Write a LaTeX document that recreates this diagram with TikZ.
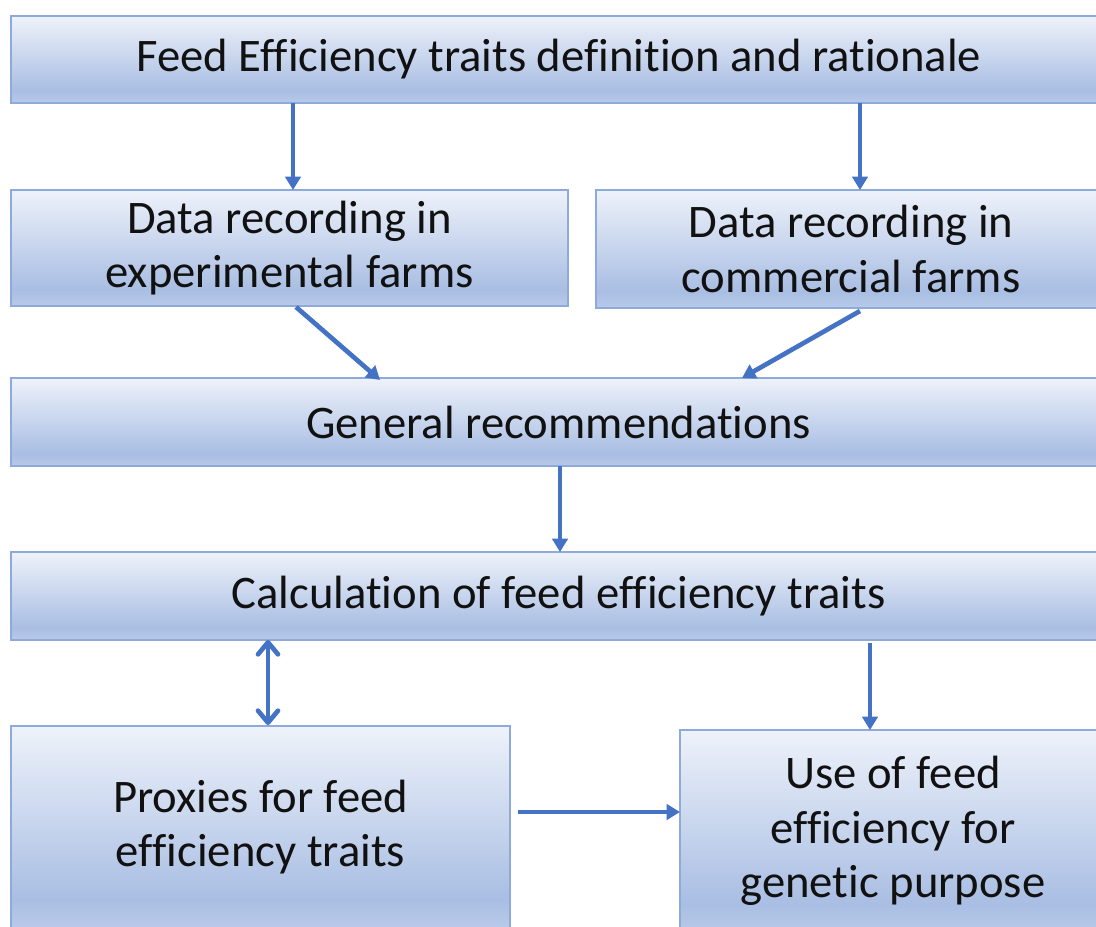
\documentclass[tikz,border=0pt]{standalone}
\usepackage{fontspec}
\setmainfont{Carlito}[Ligatures=NoCommon]
\usetikzlibrary{arrows.meta,calc}

% light-blue vertical gradient used by every box (25bp..75bp spans the box)
\definecolor{boxtop}{HTML}{EEF2FA}
\definecolor{boxmid}{HTML}{A9BEE3}
\definecolor{boxbot}{HTML}{B9CAE9}
\definecolor{boxline}{HTML}{8EAADB}
\definecolor{arrowblue}{HTML}{4472C4}
\definecolor{ink}{HTML}{111111}
\pgfdeclareverticalshading{boxshade}{100bp}{%
  color(0bp)=(boxbot); color(25bp)=(boxbot); color(32bp)=(boxmid);
  color(75bp)=(boxtop); color(100bp)=(boxtop)}

\begin{document}
\begin{tikzpicture}[x=0.75pt,y=-0.75pt,
  box/.style={draw=boxline, line width=1.1pt, shading=boxshade,
    inner sep=0pt, outer sep=0pt, align=center, text=ink,
    font=\fontsize{35}{41}\selectfont},
  arr/.style={draw=arrowblue, line width=3.5pt,
    -{Triangle[length=10pt,width=11.5pt]}},
  dblarr/.style={draw=arrowblue, line width=3.5pt, line cap=round,
    {Straight Barb[length=9pt,width=15pt,line width=3.5pt,round]}-{Straight Barb[length=9pt,width=15pt,line width=3.5pt,round]}}]
\useasboundingbox (0,0) rectangle (1096,927);
\clip (0,0) rectangle (1096,927);
\fill[white] (0,0) rectangle (1096,927);

% boxes (right-hand and lower ones run past the edge of the page)
\node[box, minimum width=822pt, minimum height=65.25pt] (top) at (559,59.5)
  {Feed Efficiency traits definition and rationale};
\node[box, minimum width=417.75pt, minimum height=87pt] (exp) at (289.5,248)
  {Data recording in\\experimental farms};
\node[box, minimum width=382.5pt, minimum height=88.5pt] (com) at (851,249)
  {Data recording in\\commercial farms};
\node[box, minimum width=821.25pt, minimum height=66pt] (gen) at (558.5,422)
  {General recommendations};
\node[box, minimum width=821.25pt, minimum height=66pt] (calc) at (558.5,596)
  {Calculation of feed efficiency traits};
\node[box, minimum width=374.25pt, minimum height=151.5pt] (prox) at (260.5,827)
  {Proxies for feed\\efficiency traits};
\node[box, minimum width=319.5pt, minimum height=151.5pt] (use) at (893,831)
  {Use of feed\\efficiency for\\genetic purpose};

% arrow end points on the box edges
\coordinate (expin)  at ($(exp.north)+(3.5,0)$);
\coordinate (comin)  at ($(com.north)+(9,0)$);
\coordinate (expout) at ($(exp.south)+(6.5,1)$);
\coordinate (genin1) at ($(gen.north)+(-178.5,2)$);
\coordinate (comout) at ($(com.south)+(9,3)$);
\coordinate (genin2) at ($(gen.north)+(183.5,0)$);
\coordinate (proxin) at ($(prox.north)+(7.5,-1)$);
\coordinate (usein)  at ($(use.north)+(-23,0)$);
\coordinate (proxout) at ($(prox.east)+(8,-15)$);

% connectors
\draw[arr] (expin |- top.south) -- (expin);
\draw[arr] (comin |- top.south) -- (comin);
\draw[arr] (expout) -- (genin1);
\draw[arr] (comout) -- (genin2);
\draw[arr] ($(gen.south)+(1.5,0)$) -- ($(calc.north)+(1.5,0)$);
\draw[dblarr] (proxin |- calc.south) -- (proxin);
\draw[arr] ($(usein |- calc.south)+(0,3)$) -- (usein);
\draw[arr] (proxout) -- (proxout -| use.west);
\end{tikzpicture}
\end{document}
